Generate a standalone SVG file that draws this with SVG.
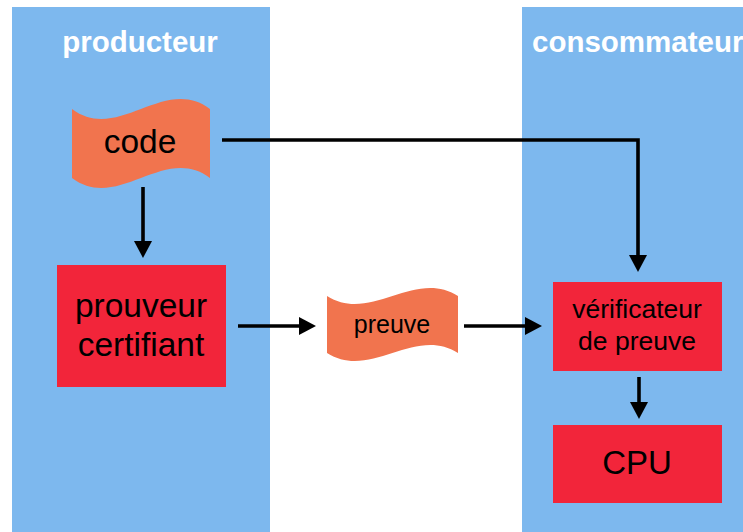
<svg xmlns="http://www.w3.org/2000/svg" width="743" height="532" viewBox="0 0 743 532">
  <style>
    .panel { fill: #7db8ee; }
    .box { fill: #f2253a; }
    .tape { fill: #f1744e; }
    .title { font-family: "Liberation Sans", Arial, sans-serif; font-weight: bold; font-size: 29.5px; fill: #ffffff; }
    .lbl { font-family: "Liberation Sans", Arial, sans-serif; fill: #000000; text-anchor: middle; }
    .conn { fill: none; stroke: #000000; stroke-width: 3.6; }
  </style>
  <defs>
    <marker id="head" viewBox="0 0 18 18" markerWidth="18" markerHeight="18" refX="1" refY="9" orient="auto" markerUnits="userSpaceOnUse">
      <path d="M0,0 L17,9 L0,18 Z" fill="#000000"/>
    </marker>
  </defs>

  <!-- swimlanes -->
  <g id="lane-producteur">
    <rect class="panel" x="12" y="7" width="258" height="525"/>
    <text class="title" x="140" y="52" text-anchor="middle">producteur</text>
  </g>
  <g id="lane-consommateur">
    <rect class="panel" x="522" y="7" width="221" height="525"/>
    <text class="title" x="532" y="52">consommateur</text>
  </g>

  <!-- nodes (wavy tape shapes use cubic S-curves for top and bottom edges) -->
  <g id="code">
    <path class="tape" d="M72,109 C118,143.6 164,74.4 210,109 L210,178 C164,143.4 118,212.6 72,178 Z"/>
    <text class="lbl" x="140" y="153" font-size="33.5">code</text>
  </g>
  <g id="prouveur">
    <rect class="box" x="57" y="265" width="169" height="122"/>
    <text class="lbl" x="141" y="317" font-size="33.5">prouveur</text>
    <text class="lbl" x="141" y="356" font-size="33.5">certifiant</text>
  </g>
  <g id="preuve">
    <path class="tape" d="M327,296 C370.7,323.7 414.3,268.3 458,296 L458,353 C414.3,325.3 370.7,380.7 327,353 Z"/>
    <text class="lbl" x="392" y="333" font-size="25">preuve</text>
  </g>
  <g id="verificateur">
    <rect class="box" x="553" y="282" width="169" height="89"/>
    <text class="lbl" x="637" y="318" font-size="26.5">vérificateur</text>
    <text class="lbl" x="637" y="350" font-size="26.5">de preuve</text>
  </g>
  <g id="cpu">
    <rect class="box" x="553" y="425" width="169" height="78"/>
    <text class="lbl" x="637" y="474" font-size="33">CPU</text>
  </g>

  <!-- connectors -->
  <g id="connectors">
    <path class="conn" d="M143,187 V242" marker-end="url(#head)"/>
    <path class="conn" d="M222,140 H638 V256" marker-end="url(#head)"/>
    <path class="conn" d="M238,326 H300" marker-end="url(#head)"/>
    <path class="conn" d="M464,326 H526" marker-end="url(#head)"/>
    <path class="conn" d="M639,377 V403" marker-end="url(#head)"/>
  </g>
</svg>
